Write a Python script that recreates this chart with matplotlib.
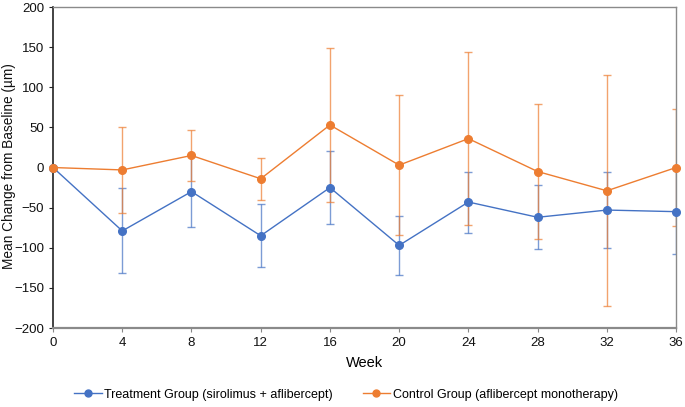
import matplotlib
matplotlib.use("Agg")
import matplotlib.pyplot as plt
from matplotlib.lines import Line2D

plt.rcParams['font.family'] = ['Liberation Sans', 'DejaVu Sans']

weeks = [0, 4, 8, 12, 16, 20, 24, 28, 32, 36]
treat_mean = [0, -79, -30, -85, -25, -97, -43, -62, -53, -55]
treat_err = [0, 53, 44, 39, 45, 37, 38, 40, 47, 53]
ctrl_mean = [0, -3, 15, -14, 53, 3, 36, -5, -29, 0]
ctrl_err = [0, 54, 32, 26, 96, 87, 108, 84, 144, 73]

treat_label = "Treatment Group (sirolimus + aflibercept)"
ctrl_label = "Control Group (aflibercept monotherapy)"
blue = "#4472C4"
orange = "#ED7D31"

fig = plt.figure(figsize=(6.85, 4.07), dpi=100)
ax = fig.add_axes([0.0774, 0.194, 0.9096, 0.7888])

for mean, err, col in [(treat_mean, treat_err, blue), (ctrl_mean, ctrl_err, orange)]:
    ax.errorbar(weeks, mean, yerr=err, fmt='none', ecolor=col, elinewidth=1.0,
                capsize=3, capthick=1.0, alpha=0.7)
    ax.plot(weeks, mean, color=col, lw=1.0, marker='o', markersize=5.5, clip_on=False, zorder=3)

ax.set_xlim(0, 36)
ax.set_ylim(-200, 200)
ax.set_xticks(weeks)
ax.set_yticks(range(-200, 201, 50))
ax.tick_params(labelsize=9.5, length=3, width=0.8)
ax.tick_params(axis='x', colors='#888888', labelcolor='#111111')
ax.tick_params(axis='y', colors='#222222', labelcolor='#111111')
ax.set_xlabel("Week", fontsize=10.5, labelpad=5)
fig.text(9 / 685, 1 - 166 / 407, "Mean Change from Baseline (µm)", rotation=90,
         ha='center', va='center', fontsize=9.8, color='#111111')

ax.spines['left'].set_color('#222222')
ax.spines['left'].set_linewidth(1.2)
ax.spines['bottom'].set_color('#8a8a8a')
ax.spines['bottom'].set_linewidth(1.6)
ax.spines['top'].set_color('#8a8a8a')
ax.spines['right'].set_color('#8a8a8a')
ax.spines['top'].set_linewidth(1.0)
ax.spines['right'].set_linewidth(1.0)

handles = [Line2D([], [], color=blue, marker='o', markersize=5, lw=1.0),
           Line2D([], [], color=orange, marker='o', markersize=5, lw=1.0)]
fig.legend(handles, [treat_label, ctrl_label], loc='center', bbox_to_anchor=(0.505, 0.03),
           ncol=2, frameon=False, fontsize=9, handlelength=2.2, handletextpad=0.2,
           columnspacing=2.4)

fig.savefig("out.png", dpi=100)
